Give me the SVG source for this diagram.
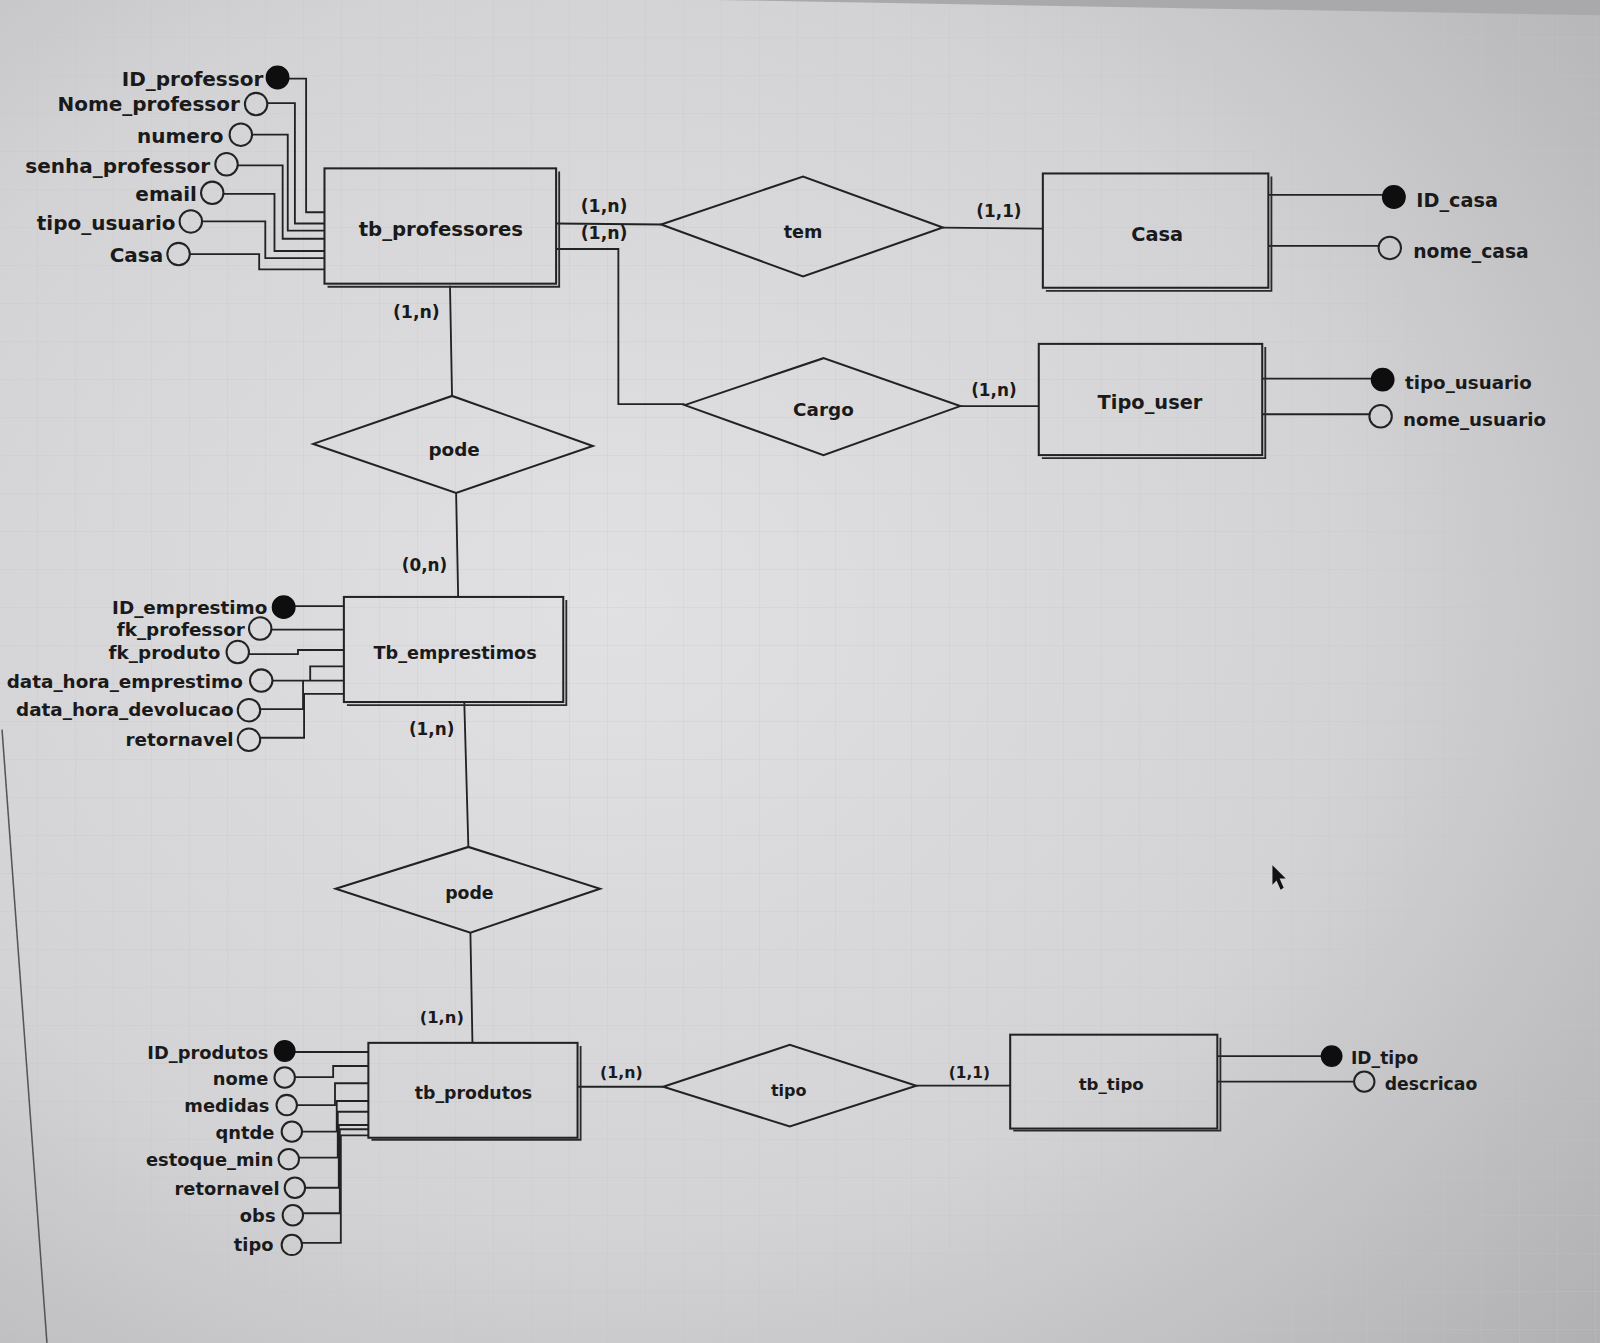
<svg xmlns="http://www.w3.org/2000/svg" width="1600" height="1343" viewBox="0 0 1600 1343">
<defs>
<radialGradient id="bg" cx="0.38" cy="0.45" r="0.85">
<stop offset="0" stop-color="#e1e1e3"/>
<stop offset="0.55" stop-color="#d3d3d6"/>
<stop offset="1" stop-color="#aeaeb1"/>
</radialGradient>
<pattern id="grid" width="38" height="38" patternUnits="userSpaceOnUse">
<path d="M38 0V38M0 38H38" fill="none" stroke="#c2c2c6" stroke-width="1" opacity="0.55"/>
</pattern>
<style>
.ln{stroke:#222;stroke-width:1.8;fill:none}
.ent{stroke:#222;stroke-width:2;fill:none}
.sh{stroke:#2a2a2a;stroke-width:1.8;fill:none}
.rel{stroke:#222;stroke-width:2;fill:none}
.pk{fill:#0e0e0e;stroke:#0e0e0e;stroke-width:1.4}
.at{fill:none;stroke:#222;stroke-width:2}
.t{font-family:"DejaVu Sans","Liberation Sans",sans-serif;font-weight:bold;fill:#1a1a1a}
.e{text-anchor:end}
.m{text-anchor:middle}
</style>
</defs>
<rect width="1600" height="1343" fill="url(#bg)"/>
<rect width="1600" height="1343" fill="url(#grid)"/>
<g transform="scale(1.0204)">
<polygon points="700,0 1568,0 1568,15" fill="#a9a9ac"/>
<line x1="2" y1="715" x2="46" y2="1316" stroke="#555" stroke-width="1.5"/>
<polygon points="1247,848 1247,867 1251,863 1255,872 1258,870 1254,861 1260,861" fill="#111"/>

<g id="connectors">
<polyline class="ln" points="283,77 300,77 300,208 318,208"/>
<polyline class="ln" points="262,101 289,101 289,219 318,219"/>
<polyline class="ln" points="247,132 282,132 282,226 318,226"/>
<polyline class="ln" points="233,162 277,162 277,234 318,234"/>
<polyline class="ln" points="219,190 269,190 269,246 318,246"/>
<polyline class="ln" points="198,217 260,217 260,253 318,253"/>
<polyline class="ln" points="186,249 254,249 254,264 318,264"/>
<line class="ln" x1="545" y1="219" x2="648" y2="220"/>
<polyline class="ln" points="545,244 606,244 606,396 671,396"/>
<line class="ln" x1="924" y1="223" x2="1022" y2="224"/>
<line class="ln" x1="941" y1="398" x2="1018" y2="398"/>
<line class="ln" x1="1243" y1="191" x2="1355" y2="191"/>
<line class="ln" x1="1243" y1="241" x2="1351" y2="241"/>
<line class="ln" x1="1237" y1="371" x2="1344" y2="371"/>
<line class="ln" x1="1237" y1="406" x2="1342" y2="406"/>
<line class="ln" x1="441" y1="280" x2="443" y2="388"/>
<line class="ln" x1="447" y1="483" x2="449" y2="585"/>
<line class="ln" x1="289" y1="594" x2="337" y2="594"/>
<line class="ln" x1="266" y1="617" x2="337" y2="617"/>
<polyline class="ln" points="244,641 292,641 292,637 337,637"/>
<line class="ln" x1="267" y1="667" x2="337" y2="667"/>
<polyline class="ln" points="304,667 304,653 337,653"/>
<polyline class="ln" points="255,695 297,695 297,667"/>
<polyline class="ln" points="255,723 298,723 298,680 337,680"/>
<line class="ln" x1="455" y1="688" x2="459" y2="830"/>
<line class="ln" x1="461" y1="914" x2="463" y2="1022"/>
<line class="ln" x1="289" y1="1031" x2="361" y2="1031"/>
<polyline class="ln" points="289,1055.6 326.5,1055.6 326.5,1044.7 361,1044.7"/>
<polyline class="ln" points="291,1083 328.3,1083 328.3,1061.6 361,1061.6"/>
<polyline class="ln" points="296,1109 330,1109 330,1079 361,1079"/>
<polyline class="ln" points="293,1134.5 331,1134.5 331,1089.5 361,1089.5"/>
<polyline class="ln" points="299,1164 332,1164 332,1102.5 361,1102.5"/>
<polyline class="ln" points="297,1189 333,1189 333,1106.7 361,1106.7"/>
<polyline class="ln" points="296,1218 334,1218 334,1112.6 361,1112.6"/>
<line class="ln" x1="566" y1="1065" x2="650" y2="1065"/>
<line class="ln" x1="898" y1="1064" x2="990" y2="1064"/>
<line class="ln" x1="1193" y1="1035" x2="1296" y2="1035"/>
<line class="ln" x1="1193" y1="1060" x2="1327" y2="1060"/>
<text class="t m" x="592" y="208" font-size="17">(1,n)</text>
<text class="t m" x="592" y="234" font-size="17">(1,n)</text>
<text class="t m" x="979" y="213" font-size="16.5">(1,1)</text>
<text class="t m" x="974" y="388" font-size="16.5">(1,n)</text>
<text class="t m" x="408" y="312" font-size="17">(1,n)</text>
<text class="t m" x="416" y="560" font-size="16.5">(0,n)</text>
<text class="t m" x="423" y="720" font-size="16.5">(1,n)</text>
<text class="t m" x="433" y="1003" font-size="16">(1,n)</text>
<text class="t m" x="609" y="1056" font-size="15.5">(1,n)</text>
<text class="t m" x="950" y="1056" font-size="15">(1,1)</text>
</g>

<g id="tb_professores">
<rect class="ent" x="318" y="165" width="227" height="113"/>
<polyline class="sh" points="548,168 548,281 321,281"/>
<text class="t m" x="432" y="231" font-size="19.3">tb_professores</text>
<circle class="pk" cx="272" cy="76" r="11"/>
<text class="t e" x="258" y="84" font-size="19.6">ID_professor</text>
<circle class="at" cx="251" cy="102" r="11"/>
<text class="t e" x="235" y="109" font-size="19.6">Nome_professor</text>
<circle class="at" cx="236" cy="132" r="11"/>
<text class="t e" x="219" y="140" font-size="19.6">numero</text>
<circle class="at" cx="222" cy="161" r="11"/>
<text class="t e" x="206" y="170" font-size="19.6">senha_professor</text>
<circle class="at" cx="208" cy="189" r="11"/>
<text class="t e" x="193" y="197" font-size="19.6">email</text>
<circle class="at" cx="187" cy="217" r="11"/>
<text class="t e" x="172" y="225" font-size="19.6">tipo_usuario</text>
<circle class="at" cx="175" cy="249" r="11"/>
<text class="t e" x="160" y="257" font-size="19.6">Casa</text>
</g>

<g id="tem">
<polygon class="rel" points="648,220 787,173 924,223 787,271"/>
<text class="t m" x="787" y="233" font-size="17.3">tem</text>
</g>

<g id="Casa">
<rect class="ent" x="1022" y="170" width="221" height="112"/>
<polyline class="sh" points="1246,173 1246,285 1025,285"/>
<text class="t m" x="1134" y="236" font-size="19">Casa</text>
<circle class="pk" cx="1366" cy="193" r="11"/>
<text class="t" x="1388" y="203" font-size="18.9">ID_casa</text>
<circle class="at" cx="1362" cy="243" r="11"/>
<text class="t" x="1385" y="253" font-size="18.4">nome_casa</text>
</g>

<g id="Cargo">
<polygon class="rel" points="671,397 807,351 941,398 807,446"/>
<text class="t m" x="807" y="408" font-size="18">Cargo</text>
</g>

<g id="Tipo_user">
<rect class="ent" x="1018" y="337" width="219" height="109"/>
<polyline class="sh" points="1240,340 1240,449 1021,449"/>
<text class="t m" x="1127" y="401" font-size="19">Tipo_user</text>
<circle class="pk" cx="1355" cy="372" r="11"/>
<text class="t" x="1377" y="381" font-size="17.9">tipo_usuario</text>
<circle class="at" cx="1353" cy="408" r="11"/>
<text class="t" x="1375" y="417" font-size="17.9">nome_usuario</text>
</g>

<g id="pode1">
<polygon class="rel" points="307,435 443,388 581,437 447,483"/>
<text class="t m" x="445" y="447" font-size="18">pode</text>
</g>

<g id="Tb_emprestimos">
<rect class="ent" x="337" y="585" width="215" height="103"/>
<polyline class="sh" points="555,588 555,691 340,691"/>
<text class="t m" x="446" y="646" font-size="17.3">Tb_emprestimos</text>
<circle class="pk" cx="278" cy="595" r="11"/>
<text class="t e" x="262" y="602" font-size="18">ID_emprestimo</text>
<circle class="at" cx="255" cy="616" r="11"/>
<text class="t e" x="240" y="623" font-size="18">fk_professor</text>
<circle class="at" cx="233" cy="639" r="11"/>
<text class="t e" x="216" y="646" font-size="18">fk_produto</text>
<circle class="at" cx="256" cy="667" r="11"/>
<text class="t e" x="238" y="674" font-size="18">data_hora_emprestimo</text>
<circle class="at" cx="244" cy="696" r="11"/>
<text class="t e" x="229" y="702" font-size="18">data_hora_devolucao</text>
<circle class="at" cx="244" cy="725" r="11"/>
<text class="t e" x="229" y="731" font-size="18">retornavel</text>
</g>

<g id="pode2">
<polygon class="rel" points="329,871 459,830 588,871 461,914"/>
<text class="t m" x="460" y="881" font-size="17">pode</text>
</g>

<g id="tb_produtos">
<rect class="ent" x="361" y="1022" width="205" height="93"/>
<polyline class="sh" points="569,1025 569,1117 364,1117"/>
<text class="t m" x="464" y="1077" font-size="17">tb_produtos</text>
<circle class="pk" cx="279" cy="1030" r="10"/>
<text class="t e" x="263" y="1038" font-size="17.5">ID_produtos</text>
<circle class="at" cx="279" cy="1056" r="10"/>
<text class="t e" x="263" y="1063" font-size="17.5">nome</text>
<circle class="at" cx="281" cy="1083" r="10"/>
<text class="t e" x="264" y="1090" font-size="17.5">medidas</text>
<circle class="at" cx="286" cy="1109" r="10"/>
<text class="t e" x="269" y="1116" font-size="17.5">qntde</text>
<circle class="at" cx="283" cy="1136" r="10"/>
<text class="t e" x="268" y="1143" font-size="17.5">estoque_min</text>
<circle class="at" cx="289" cy="1164" r="10"/>
<text class="t e" x="274" y="1171" font-size="17.5">retornavel</text>
<circle class="at" cx="287" cy="1191" r="10"/>
<text class="t e" x="270" y="1198" font-size="17.5">obs</text>
<circle class="at" cx="286" cy="1220" r="10"/>
<text class="t e" x="268" y="1226" font-size="17.5">tipo</text>
</g>

<g id="tipo">
<polygon class="rel" points="650,1065 774,1024 898,1064 774,1104"/>
<text class="t m" x="773" y="1074" font-size="15.7">tipo</text>
</g>

<g id="tb_tipo">
<rect class="ent" x="990" y="1014" width="203" height="92"/>
<polyline class="sh" points="1196,1017 1196,1108 993,1108"/>
<text class="t m" x="1089" y="1068" font-size="16.3">tb_tipo</text>
<circle class="pk" cx="1305" cy="1035" r="10"/>
<text class="t" x="1324" y="1043" font-size="16.8">ID_tipo</text>
<circle class="at" cx="1337" cy="1060" r="10"/>
<text class="t" x="1357" y="1068" font-size="16.9">descricao</text>
</g>
</g>
</svg>
